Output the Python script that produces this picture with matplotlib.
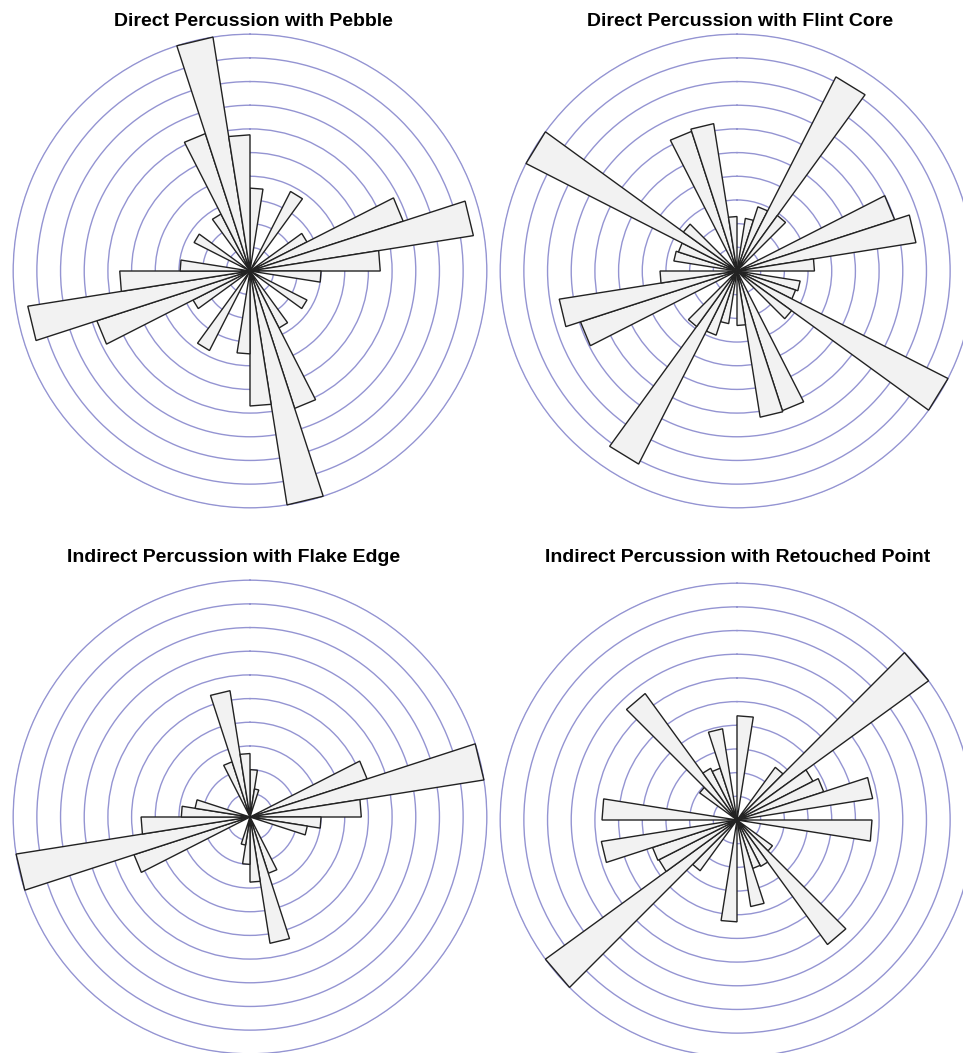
import numpy as np
import matplotlib
matplotlib.use('Agg')
import matplotlib.pyplot as plt

plt.rcParams['font.family'] = ['Liberation Sans', 'DejaVu Sans']

# 40 bins of 9 degrees, compass bearing clockwise from north
binWidth = 9
binStart = np.arange(0, 360, binWidth)

titles = ['Direct Percussion with Pebble',
          'Direct Percussion with Flint Core',
          'Indirect Percussion with Flake Edge',
          'Indirect Percussion with Retouched Point']

# relative frequency per bin (scaled so the largest bin = 10)
pebble = [3.5, 0, 0, 3.77, 0, 0, 2.7, 6.8, 9.55, 5.5,
          3.0, 0, 0, 2.7, 0, 0, 2.7, 6.1, 10, 5.7,
          3.5, 0, 0, 3.77, 0, 0, 2.7, 6.8, 9.5, 5.5,
          2.95, 0, 0, 2.65, 0, 0, 2.7, 6.1, 10, 5.75]

flintCore = [0, 2.25, 2.85, 9.2, 2.9, 0, 0, 7.0, 7.65, 3.27,
             0, 2.7, 2.6, 10, 2.85, 0, 0, 6.2, 6.25, 2.3,
             0, 2.25, 2.85, 9.15, 2.9, 0, 0, 6.95, 7.6, 3.25,
             0, 2.7, 2.6, 10, 2.8, 0, 0, 6.2, 6.3, 2.3]

flakeEdge = [2.0, 1.2, 0, 0, 0, 0, 0, 5.2, 10, 4.7,
             3.0, 2.45, 0, 0, 0, 0, 0, 2.5, 5.4, 2.75,
             2.0, 1.2, 0, 0, 0, 0, 0, 5.15, 10, 4.6,
             2.9, 2.35, 0, 0, 0, 0, 0, 2.45, 5.4, 2.68]

retouched = [4.4, 0, 0, 0, 2.75, 10, 3.6, 3.85, 5.8, 0,
             5.7, 0, 0, 0, 1.85, 6.5, 2.2, 2.15, 3.7, 0,
             4.3, 0, 0, 0, 2.65, 10, 3.7, 3.75, 5.8, 0,
             5.7, 0, 0, 0, 1.95, 6.6, 2.45, 2.3, 3.9, 0]

series = [pebble, flintCore, flakeEdge, retouched]

W, H = 963, 1053
centers = [(250, 271), (737, 271), (250, 817), (737, 820)]
titlePos = [(253, 21), (740, 21), (234, 557), (738, 557)]
R = 238  # axes radius in pixels

fig = plt.figure(figsize=(W / 100, H / 100), dpi=100)

for vals, name, (cx, cy), (tx, ty) in zip(series, titles, centers, titlePos):
    ax = fig.add_axes([(cx - R) / W, 1 - (cy + R) / H, 2 * R / W, 2 * R / H],
                      projection='polar')
    ax.set_theta_zero_location('N')
    ax.set_theta_direction(-1)
    # petals as straight-edged wedges (flat outer end, like a classic rose plot)
    for start, v in zip(binStart, vals):
        if v <= 0:
            continue
        t0 = np.deg2rad(start)
        t1 = np.deg2rad(start + binWidth)
        ax.fill([t0, t0, t1, t1], [0, v, v, 0], facecolor='#f2f2f2',
                edgecolor='#222222', linewidth=1.0, zorder=3)
    ax.set_ylim(0, 10.05)
    ax.set_yticks(np.arange(1, 11))
    ax.set_yticklabels([])
    ax.set_xticks([])
    ax.grid(True, color='#9494d2', linewidth=1.0)
    ax.set_axisbelow(True)
    ax.spines['polar'].set_visible(False)
    ax.patch.set_alpha(0)
    fig.text(tx / W, 1 - ty / H, name, ha='center', va='center',
             fontsize=14, fontweight='bold')

fig.savefig('out.png', dpi=100)
